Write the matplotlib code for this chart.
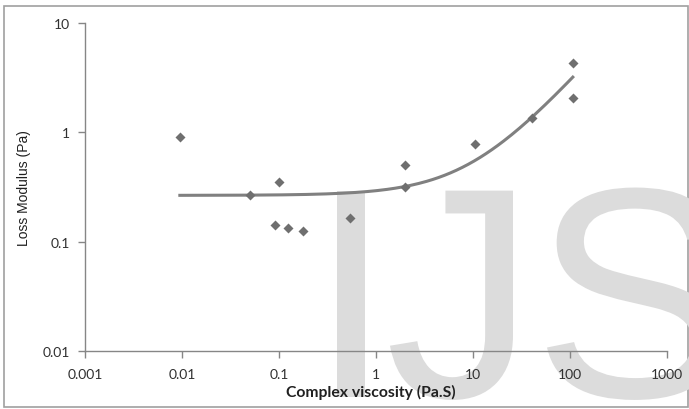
import numpy as np
import matplotlib
matplotlib.use("Agg")
import matplotlib.pyplot as plt
from matplotlib.patches import Rectangle, PathPatch
from matplotlib.textpath import TextPath
from matplotlib.font_manager import FontProperties
from matplotlib.transforms import Affine2D

# Data
viscosity = [0.0095, 0.05, 0.1, 0.09, 0.125, 0.177, 0.54, 2.0, 2.0, 10.5, 40.6, 107, 107]
loss_mod = [0.9, 0.265, 0.35, 0.143, 0.134, 0.124, 0.163, 0.5, 0.313, 0.79, 1.34, 4.3, 2.05]
trend_slope = 0.0274  # linear trendline y = a*x + b
trend_icpt = 0.265
x_ticks = [0.001, 0.01, 0.1, 1, 10, 100, 1000]
x_ticklabels = ["0.001", "0.01", "0.1", "1", "10", "100", "1000"]
y_ticks = [0.01, 0.1, 1, 10]
y_ticklabels = ["0.01", "0.1", "1", "10"]

fig = plt.figure(figsize=(6.89, 4.10), dpi=100)
ax = fig.add_axes([0.1234, 0.1415, 0.8446, 0.8])
ax.set_facecolor("none")

# watermark "IJS", letters placed one by one (pixel coords)
# (letter, x edge, which edge) -> I and S by left ink edge, J by stem right edge
wm_font = FontProperties(family="Liberation Sans")
for ch, xpos, edge in [("I", 337, "left"), ("J", 513, "right"), ("S", 547, "left")]:
    tp = TextPath((0, 0), ch, size=300, prop=wm_font)
    ext = tp.get_extents()
    dx = xpos - ext.x0 if edge == "left" else xpos - ext.x1
    tr = Affine2D().translate(dx, 12)
    fig.patches.append(PathPatch(tr.transform_path(tp), facecolor="#dcdcdc",
                                 edgecolor="none", transform=None, zorder=-5))

# trend line
xs = np.logspace(np.log10(min(viscosity)), np.log10(max(viscosity)), 200)
ax.plot(xs, trend_slope * xs + trend_icpt, color="#808080", lw=2.2, zorder=2)
ax.plot(viscosity, loss_mod, "D", color="#6f6f6f", ms=5.2, mec="none", zorder=3)

ax.set_xscale("log")
ax.set_yscale("log")
ax.set_xlim(0.001, 1000)
ax.set_ylim(0.01, 10)
ax.set_xticks(x_ticks)
ax.set_xticklabels(x_ticklabels)
ax.set_yticks(y_ticks)
ax.set_yticklabels(y_ticklabels)
ax.minorticks_off()

for s in ["top", "right"]:
    ax.spines[s].set_visible(False)
for s in ["left", "bottom"]:
    ax.spines[s].set_color("#868686")
    ax.spines[s].set_linewidth(1.0)
ax.tick_params(colors="#868686", length=5, width=1.0, labelcolor="#303030",
               labelsize=10)
ax.tick_params(axis="x", pad=7)
ax.tick_params(axis="y", pad=6)
for lab in ax.get_xticklabels() + ax.get_yticklabels():
    lab.set_family("Lato")

ax.set_xlabel("Complex viscosity (Pa.S)", family="Lato", fontweight="bold",
              fontsize=11.3, color="#202020")
ax.xaxis.set_label_coords(0.491, -0.122)
ax.xaxis.label.set_va("center")
ax.set_ylabel("Loss Modulus (Pa)", family="Liberation Sans", fontsize=10,
              color="#202020", labelpad=8)

# outer chart border
fig.patches.append(Rectangle((4 / 689, 2 / 410), 684 / 689, 401 / 410,
                             transform=fig.transFigure, fill=False,
                             edgecolor="#a0a0a0", lw=1.2, zorder=-10))

fig.savefig("out.png", dpi=100)
